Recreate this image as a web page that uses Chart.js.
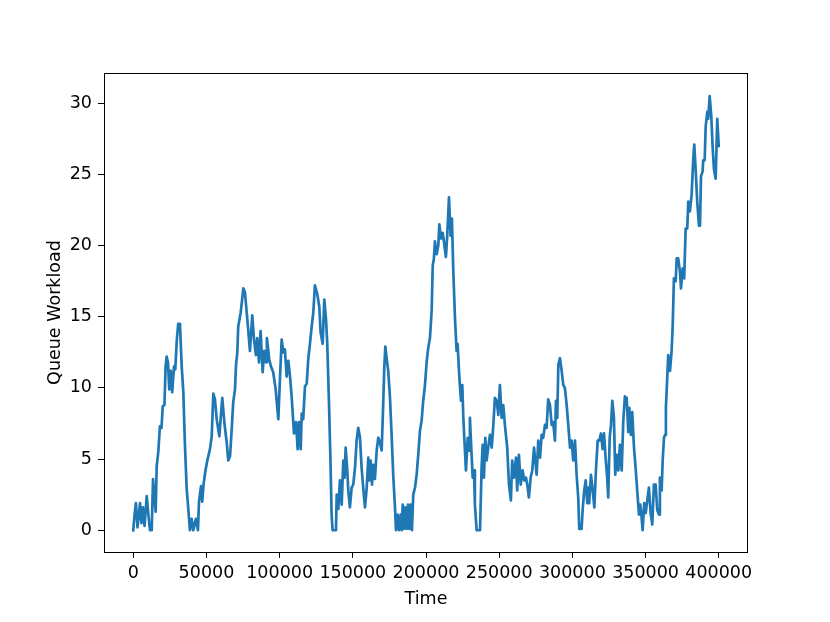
<!DOCTYPE html>
<html>
<head>
<meta charset="utf-8">
<script src="https://cdn.jsdelivr.net/npm/chart.js@4"></script>
<style>
  html, body { margin: 0; padding: 0; background: #ffffff; }
  #wrap { width: 830px; height: 622px; }
</style>
</head>
<body>
<div id="wrap"><canvas id="c" width="830" height="622"></canvas></div>
<script>
const time = [
  0, 800, 1800, 2900, 3900, 4600, 5600, 6600, 7700, 9200,
  10400, 11400, 12600, 13500, 15300, 16000, 17100, 18200, 19300, 20100,
  21300, 22100, 22800, 23700, 24600, 25600, 26600, 27800, 28700, 29700,
  30700, 31900, 33100, 34200, 35300, 36500, 37600, 38700, 39900, 41000,
  42800, 44200, 44900, 46300, 47100, 48100, 49500, 50800, 52400, 53600,
  54700, 55800, 57000, 58800, 60800, 62300, 63800, 64900, 66100, 67200,
  68300, 69500, 70200, 71100, 71700, 73400, 75200, 76300, 77500, 78600,
  79700, 81300, 82500, 83800, 84700, 85900, 87000, 88400, 89500, 90700,
  91300, 92900, 94100, 95600, 97300, 99100, 100200, 101400, 102500, 103600,
  104800, 105900, 107100, 108200, 109800, 111200, 112300, 113200, 114400, 115100,
  116100, 117300, 118500, 119600, 120700, 121900, 123000, 124100, 125700, 127100,
  128000, 129400, 130500, 131700, 132500, 133700, 134700, 135500, 136200, 138500,
  139000, 140100, 141200, 142400, 143500, 144400, 145100, 146200, 146900, 148000,
  149200, 150300, 151500, 152600, 153700, 154900, 156000, 157100, 158300, 159500,
  160600, 161200, 162200, 163100, 164000, 165100, 166300, 167400, 168500, 169700,
  170400, 171500, 172200, 173100, 174200, 175400, 176500, 177600, 178800, 179500,
  180600, 181500, 182700, 183400, 184100, 184900, 185800, 186800, 187700, 188600,
  189500, 190400, 191300, 192500, 193600, 194700, 195900, 197000, 198100, 199300,
  200500, 201500, 202700, 203900, 204600, 205400, 206100, 207300, 208400, 209100,
  210200, 211400, 212500, 213600, 214500, 215700, 216800, 217700, 218600, 219800,
  220900, 221600, 222700, 223900, 224800, 225500, 226600, 227300, 228500, 229400,
  230000, 231200, 231900, 232800, 233400, 234600, 236900, 238000, 238700, 239600,
  240500, 241400, 242500, 243700, 244900, 246000, 247100, 248300, 249400, 250500,
  251700, 252800, 253900, 255500, 256700, 258000, 258900, 260100, 261500, 262300,
  263500, 264700, 266000, 267100, 268300, 269500, 270300, 271500, 272600, 273800,
  275600, 276700, 277900, 279000, 280100, 281300, 282400, 283500, 284700, 285900,
  286900, 288100, 288800, 289700, 290400, 291500, 292700, 293800, 294900, 296100,
  297200, 298400, 299500, 300600, 301800, 302900, 304000, 304700, 306300, 307000,
  308100, 309100, 310200, 310900, 311500, 312700, 313900, 315000, 316100, 317300,
  318400, 319500, 320700, 321600, 322700, 323800, 324500, 325500, 326400, 327300,
  328400, 329300, 330300, 331400, 332500, 333700, 334800, 335900, 337100, 338200,
  338900, 340000, 340900, 342100, 343200, 344300, 345500, 346400, 347300, 348000,
  349100, 350100, 351200, 352300, 353500, 354600, 355700, 356900, 358000, 359200,
  359800, 361000, 361700, 362600, 363300, 363900, 364800, 365500, 366700, 367800,
  368500, 369400, 370600, 371300, 372300, 373500, 374200, 375400, 376400, 377400,
  378500, 379200, 380300, 381500, 382600, 383300, 384200, 385300, 386500, 387200,
  387900, 389000, 389400, 390400, 391100, 392200, 392800, 393800, 394900, 395800,
  396700, 397900, 399000, 400000
];
const workload = [
  0.0, 1.0, 1.9, 0.2, 1.2, 1.9, 0.5, 1.6, 0.3, 2.4,
  1.0, 0.0, 0.0, 3.6, 1.3, 4.5, 5.5, 7.3, 7.2, 8.7,
  8.8, 11.5, 12.2, 11.8, 9.9, 11.2, 9.7, 11.5, 11.3, 13.3,
  14.5, 14.5, 11.5, 9.7, 6.0, 2.9, 1.5, 0.0, 0.8, 0.0,
  0.8, 0.0, 2.0, 3.1, 2.0, 3.3, 4.3, 5.0, 5.7, 6.6,
  9.6, 9.2, 7.8, 6.6, 9.3, 7.5, 6.2, 4.9, 5.2, 7.0,
  9.0, 9.9, 11.6, 12.5, 14.3, 15.3, 17.0, 16.7, 15.3, 14.0,
  12.6, 15.1, 13.4, 12.3, 13.5, 11.8, 14.0, 11.1, 12.6, 11.8,
  13.5, 12.0, 11.5, 11.1, 9.9, 7.8, 10.6, 13.4, 12.5, 12.7,
  10.8, 11.9, 10.8, 9.4, 6.8, 7.6, 5.7, 7.6, 5.7, 8.2,
  7.8, 10.1, 10.3, 12.1, 13.1, 14.3, 15.3, 17.2, 16.6, 15.7,
  13.9, 13.1, 16.2, 14.8, 13.2, 9.0, 5.0, 1.1, 0.0, 0.0,
  2.5, 1.5, 3.5, 1.8, 4.9, 3.7, 5.8, 4.2, 2.8, 1.6,
  3.0, 3.2, 4.4, 6.3, 7.2, 6.5, 4.4, 3.0, 1.6, 3.0,
  5.1, 3.5, 4.9, 3.2, 4.6, 3.6, 5.6, 6.5, 6.2, 5.6,
  7.7, 11.4, 12.9, 12.1, 11.2, 9.3, 6.7, 3.9, 1.6, 0.0,
  1.1, 0.0, 1.1, 0.0, 1.8, 0.1, 1.6, 0.1, 1.8, 0.1,
  1.8, 0.0, 2.5, 3.0, 3.9, 5.3, 7.0, 7.7, 9.1, 10.2,
  11.9, 12.8, 13.5, 15.5, 18.6, 19.1, 20.3, 19.4, 20.0, 21.5,
  20.5, 20.9, 20.1, 19.2, 20.7, 23.4, 20.7, 21.9, 18.4, 14.9,
  12.6, 13.1, 10.9, 9.1, 10.2, 7.9, 5.6, 4.2, 6.5, 5.6,
  7.9, 5.2, 3.7, 4.2, 1.8, 0.0, 0.0, 4.4, 6.0, 3.7,
  6.5, 4.9, 5.8, 6.7, 5.8, 7.4, 9.3, 9.1, 8.1, 10.2,
  7.9, 8.8, 7.4, 5.8, 3.2, 2.1, 4.9, 3.7, 5.1, 2.8,
  5.3, 3.2, 4.2, 3.5, 3.7, 3.0, 2.3, 3.7, 4.2, 5.8,
  3.9, 6.3, 5.1, 6.7, 6.5, 7.4, 7.2, 9.2, 8.8, 7.4,
  7.6, 6.3, 9.1, 7.9, 11.6, 12.1, 11.2, 10.2, 10.0, 8.8,
  7.4, 5.8, 6.3, 4.9, 6.3, 3.9, 2.3, 0.1, 0.1, 1.4,
  2.8, 3.5, 1.9, 3.0, 1.9, 3.9, 2.8, 1.6, 4.2, 6.3,
  6.3, 6.8, 5.7, 6.8, 5.1, 3.7, 2.3, 6.5, 7.4, 9.1,
  7.9, 3.9, 5.3, 4.2, 6.0, 4.2, 7.7, 9.4, 9.3, 6.9,
  8.6, 6.7, 8.3, 5.8, 4.4, 2.8, 1.1, 1.8, 0.9, 0.0,
  1.9, 1.2, 2.1, 3.0, 1.2, 0.4, 3.2, 3.2, 1.4, 1.1,
  3.7, 2.8, 4.9, 6.5, 6.7, 8.6, 10.7, 12.3, 11.2, 12.6,
  14.2, 17.7, 17.5, 19.1, 19.1, 18.2, 17.0, 18.4, 17.7, 21.2,
  21.2, 23.1, 22.4, 23.6, 26.1, 27.1, 25.4, 23.1, 21.4, 21.4,
  24.9, 25.2, 26.0, 26.0, 28.4, 29.4, 28.9, 30.5, 29.1, 27.0,
  25.4, 24.7, 28.9, 27.0
];
const xTicks = [0, 50000, 100000, 150000, 200000, 250000, 300000, 350000, 400000];
const yTicks = [0, 5, 10, 15, 20, 25, 30];
const xTitle = 'Time';
const yTitle = 'Queue Workload';

const FONT = 'DejaVu Sans';
const points = time.map((t, i) => ({ x: t, y: workload[i] }));

const frame = {
  id: 'frame',
  afterDraw(chart) {
    const a = chart.chartArea;
    const ctx = chart.ctx;
    ctx.save();
    ctx.strokeStyle = '#000';
    ctx.lineWidth = 1;
    ctx.strokeRect(Math.round(a.left) + 0.5, Math.round(a.top) + 0.5,
                   Math.round(a.right - a.left) - 1, Math.round(a.bottom - a.top));
    ctx.restore();
  }
};

new Chart(document.getElementById('c'), {
  type: 'line',
  data: {
    datasets: [{
      data: points,
      borderColor: '#1f77b4',
      borderWidth: 2.7,
      pointRadius: 0,
      tension: 0,
      fill: false,
      borderJoinStyle: 'round',
      borderCapStyle: 'square'
    }]
  },
  options: {
    responsive: false,
    animation: false,
    events: [],
    layout: { padding: { top: 73, right: 82, left: 0, bottom: 0 } },
    plugins: { legend: { display: false }, tooltip: { enabled: false } },
    scales: {
      x: {
        type: 'linear',
        min: -20000,
        max: 420000,
        afterBuildTicks(scale) { scale.ticks = xTicks.map(v => ({ value: v })); },
        afterFit(scale) { scale.height = 70; },
        grid: { drawOnChartArea: false, drawTicks: true, tickLength: 6, color: '#000', lineWidth: 1 },
        border: { display: false },
        ticks: {
          autoSkip: false, maxRotation: 0, minRotation: 0, padding: 5,
          color: '#000', font: { family: FONT, size: 17.5 },
          callback: v => String(v)
        },
        title: {
          display: true, text: xTitle, color: '#000',
          font: { family: FONT, size: 17.5 },
          padding: { top: 0, bottom: 12 }
        }
      },
      y: {
        type: 'linear',
        min: -1.53,
        max: 32.13,
        afterBuildTicks(scale) { scale.ticks = yTicks.map(v => ({ value: v })); },
        afterFit(scale) { scale.width = 104; },
        grid: { drawOnChartArea: false, drawTicks: true, tickLength: 6, color: '#000', lineWidth: 1 },
        border: { display: false },
        ticks: {
          autoSkip: false, padding: 6,
          color: '#000', font: { family: FONT, size: 17.5 },
          callback: v => String(v)
        },
        title: {
          display: true, text: yTitle, color: '#000',
          font: { family: FONT, size: 17.5 },
          padding: { top: 45, bottom: 0 }
        }
      }
    }
  },
  plugins: [frame]
});
</script>
</body>
</html>
